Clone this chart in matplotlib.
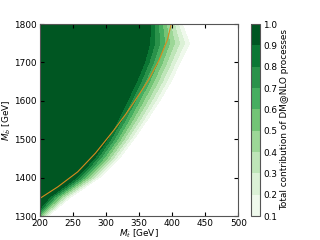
import numpy as np
import matplotlib
matplotlib.use('Agg')
import matplotlib.pyplot as plt


# edges of the DM@NLO contribution band
mb_pts = [1300, 1350, 1400, 1450, 1500, 1550, 1600, 1650, 1700, 1750, 1800]
mt_09 = [190, 215, 255, 282, 302, 318, 332, 346, 358, 366, 367]   # value 0.9
mt_01 = [212, 247, 290, 320, 342, 362, 381, 398, 412, 426, 415]   # value 0.1

# orange line
line_mt = [200, 227, 257, 284, 311, 330, 345, 364, 380, 392.5, 398.5]
line_mb = [1346, 1376, 1415, 1464, 1522, 1566, 1604, 1654, 1706, 1758, 1800]

levels = [0.1, 0.2, 0.3, 0.4, 0.5, 0.6, 0.7, 0.8, 0.9, 1.0]

mt = np.linspace(200, 500, 301)
mb = np.linspace(1300, 1800, 251)
MT, MB = np.meshgrid(mt, mb)
hi = np.interp(MB, mb_pts, mt_09)
lo = np.interp(MB, mb_pts, mt_01)
Z = 0.9 - 0.8 * (MT - hi) / (lo - hi)
Z = np.clip(Z, 0, 1)

fs = 6.4
fig = plt.figure(figsize=(3.2, 2.4), dpi=100)
ax = fig.add_axes([0.125, 0.1, 0.62, 0.8])
cax = fig.add_axes([0.783, 0.1, 0.03, 0.8])

cs = ax.contourf(MT, MB, Z, levels=levels, cmap='Greens', vmin=0.1, vmax=1.0)
ax.plot(line_mt, line_mb, color='#d88a1e', lw=0.8)

ax.set_xlim(200, 500)
ax.set_ylim(1300, 1800)
ax.set_xticks([200, 250, 300, 350, 400, 450, 500])
ax.set_yticks([1300, 1400, 1500, 1600, 1700, 1800])
ax.tick_params(direction='in', top=True, right=True, labelsize=fs, length=3)
ax.tick_params(axis='x', pad=2.5)
ax.tick_params(axis='y', pad=2.5)
ax.set_xlabel(r'$M_{\tilde{t}}$ [GeV]', fontsize=fs, labelpad=-1)
ax.set_ylabel(r'$M_{\tilde{b}}$ [GeV]', fontsize=fs, labelpad=1)
for s in ax.spines.values():
    s.set_color('#555555')

cb = fig.colorbar(cs, cax=cax, ticks=levels)
cb.ax.tick_params(labelsize=fs, length=0, pad=2)
cb.set_label('Total contribution of DM@NLO processes', fontsize=fs, labelpad=2.5)
cb.outline.set_edgecolor('#555555')

fig.savefig('out.png', dpi=100)
